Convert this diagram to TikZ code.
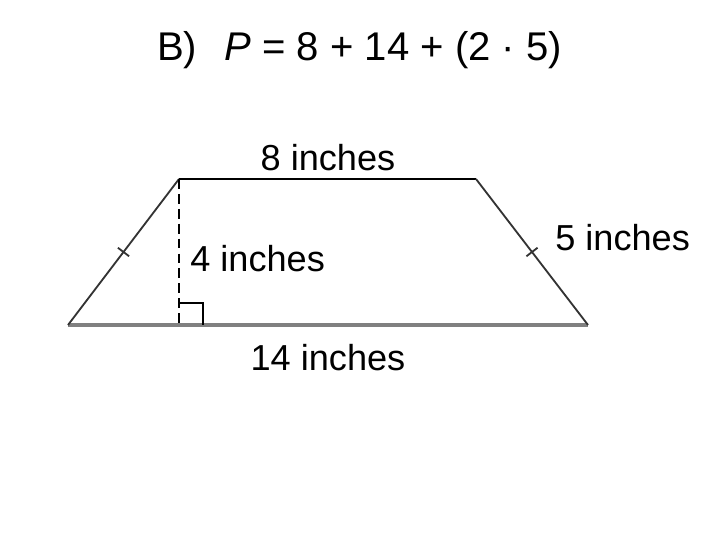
\documentclass[tikz,border=0pt]{standalone}
\usepackage{fontspec}
\setmainfont{Liberation Sans}
\usepackage{tikz}
\usetikzlibrary{calc}

\tikzset{
    lbl/.style={inner sep=0pt, font=\fontsize{25.7}{30}\selectfont},
    leg/.style={draw=black!80, line width=1.3pt},
    base/.style={draw=black!50, line width=2.2pt},
    topside/.style={draw=black, line width=2pt},
    height/.style={draw=black, line width=2pt, dash pattern=on 7pt off 3.6pt},
}

\begin{document}
\begin{tikzpicture}[x=0.025cm, y=-0.025cm]
                \useasboundingbox (0,0) rectangle (720,540);
                % title
                \node[inner sep=0pt, anchor=base, font=\fontsize{28.5}{34}\selectfont] (title) at (359.5,60) {B)\hspace{19.5pt}\textit{P} = 8 + 14 + (2 · 5)};
                % corners of the trapezoid
                \coordinate (bl) at (68,325);
                \coordinate (br) at (588,325);
                \coordinate (tl) at (179,179);
                \coordinate (tr) at (476,179);
                \coordinate (foot) at (179,325);
                \draw[base] (bl) -- (br);
                \draw[topside] (tl) -- (tr);
                \draw[leg] (bl) -- (tl);
                \draw[leg] (tr) -- (br);
                \draw[height] (tl) -- (foot);
                \draw[black, line width=1.4pt] (179,303) -- (203,303) -- (203,325);
                % equal-length marks
                \coordinate (lm) at ($(bl)!0.5!(tl)$);
                \coordinate (rm) at ($(tr)!0.5!(br)$);
                \draw[leg] ($(lm)!5pt!90:(tl)$) -- ($(lm)!5pt!-90:(tl)$);
                \draw[leg] ($(rm)!5pt!90:(br)$) -- ($(rm)!5pt!-90:(br)$);
                % labels
                \node[lbl, anchor=base] (top) at (328,170) {8 inches};
                \node[lbl, anchor=base west] (h) at (190,271) {4 inches};
                \node[lbl, anchor=base west] (side) at (555,250) {5 inches};
                \node[lbl, anchor=base] (bottom) at (328,370) {14 inches};
            \end{tikzpicture}
\end{document}
